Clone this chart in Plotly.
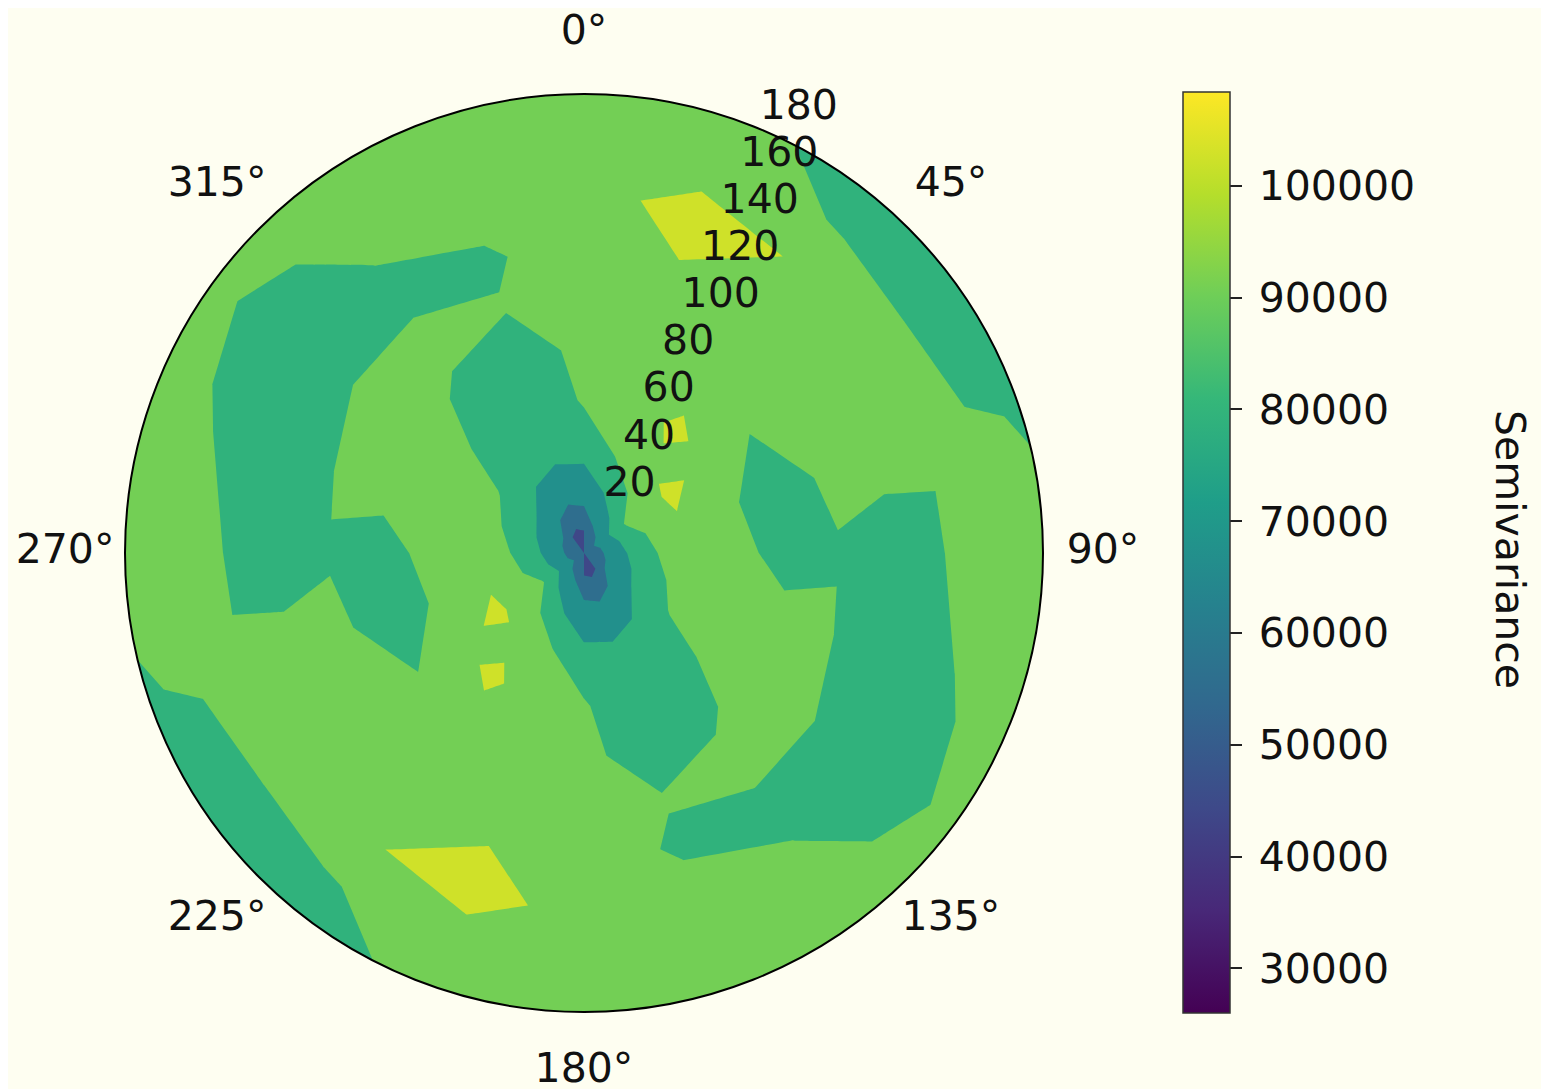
import numpy as np
import plotly.graph_objects as go
from plotly.colors import sample_colorscale

# ---------------- data ----------------
lags = [0, 20, 40, 60, 80, 100, 120, 140, 160, 180]
azimuths = [0, 18, 36, 54, 72, 90, 108, 126, 144, 162,
            180, 198, 216, 234, 252, 270, 288, 306, 324, 342]

# semivariance[azimuth index][lag index]
semivariance = [
    [37000, 62000, 75300, 85500, 90000, 90000, 88000, 91000, 90000, 90000],   # 0
    [50000, 68000, 84300, 92200, 90000, 90000, 95800, 101000, 90000, 90000],  # 18
    [50000, 76000, 93500, 97300, 93400, 90000, 90000, 95300, 84500, 78500],   # 36
    [52000, 85000, 97500, 94000, 84100, 90000, 90000, 90000, 82000, 76000],   # 54
    [50000, 80000, 95200, 85500, 78000, 86000, 86500, 84400, 84400, 83800],   # 72
    [50000, 76000, 94000, 87000, 80000, 83200, 80000, 83500, 90000, 84600],   # 90
    [50000, 72500, 89000, 90000, 86800, 85100, 78000, 80000, 86200, 90000],   # 108
    [50000, 70000, 83500, 90000, 94000, 90000, 80000, 78000, 80000, 90000],   # 126
    [37000, 66000, 76000, 74000, 80000, 90000, 81400, 84100, 88000, 90000],   # 144
    [36200, 60000, 74500, 74000, 73000, 84600, 83000, 86000, 90000, 90000],   # 162
    [37000, 62000, 75300, 85500, 90000, 90000, 88000, 91000, 90000, 90000],   # 180
    [50000, 68000, 84300, 92200, 90000, 90000, 95800, 101000, 90000, 90000],  # 198
    [50000, 76000, 93500, 97300, 93400, 90000, 90000, 95300, 84500, 78500],   # 216
    [52000, 85000, 97500, 94000, 84100, 90000, 90000, 90000, 82000, 76000],   # 234
    [50000, 80000, 95200, 85500, 78000, 86000, 86500, 84400, 84400, 83800],   # 252
    [50000, 76000, 94000, 87000, 80000, 83200, 80000, 83500, 90000, 84600],   # 270
    [50000, 72500, 89000, 90000, 86800, 85100, 78000, 80000, 86200, 90000],   # 288
    [50000, 70000, 83500, 90000, 94000, 90000, 80000, 78000, 80000, 90000],   # 306
    [37000, 66000, 76000, 74000, 80000, 90000, 81400, 84100, 88000, 90000],   # 324
    [36200, 60000, 74500, 74000, 73000, 84600, 83000, 86000, 90000, 90000],   # 342
]

contour_levels = [24000, 36000, 48000, 60000, 72000, 84000, 96000, 108000]
cbar_min, cbar_max = 26000, 108400
cbar_ticks = [30000, 40000, 50000, 60000, 70000, 80000, 90000, 100000]
angle_ticks = [0, 45, 90, 135, 180, 225, 270, 315]
radial_ticks = [20, 40, 60, 80, 100, 120, 140, 160, 180]
r_max = 180
cbar_title = "Semivariance"

# ---------------- build grid (close the azimuth circle) ----------------
az_closed = azimuths + [360]
z_closed = np.array(semivariance + [semivariance[0]], dtype=float)
A, B = np.meshgrid(lags, az_closed)
X = A * np.sin(np.radians(B))
Y = A * np.cos(np.radians(B))

# filled bands between inner levels; each band coloured by its midpoint
inner = contour_levels[1:-1]
step = contour_levels[1] - contour_levels[0]
lo, hi = contour_levels[0], contour_levels[-1]
mids = [(contour_levels[k] + contour_levels[k + 1]) / 2 for k in range(len(contour_levels) - 1)]
cols = sample_colorscale("Viridis", [(m - lo) / (hi - lo) for m in mids])
band_scale = [[k / (len(cols) - 1), c] for k, c in enumerate(cols)]

# ---------------- layout geometry (px, figure coords) ----------------
W, H = 1541, 1081
cx, cy, R = 576, 545, 459          # plot circle
RF = 536                           # outer frame hosting the angle labels
RL = 519                           # radius on which angle labels are centred

def dom(rad):
    return (dict(x=[(cx - rad) / W, (cx + rad) / W],
                 y=[max(0.0, 1 - (cy + rad) / H), min(1.0, 1 - (cy - rad) / H)]))

d_main, d_lab = dom(R), dom(RF)

FONT = "DejaVu Sans"
TXT = "#111111"
BG = "#FEFEF1"
FS = 41

hide_ax = dict(showgrid=False, showline=False, showticklabels="none",
               startline=False, endline=False, minorgridcount=0,
               gridcolor="rgba(0,0,0,0)", linecolor="rgba(0,0,0,0)")

fig = go.Figure()
fig.add_trace(go.Carpet(
    a=A.ravel(), b=B.ravel(), x=X.ravel(), y=Y.ravel(),
    carpet="polargrid", aaxis=hide_ax, baxis=hide_ax,
    xaxis="x", yaxis="y",
))
fig.add_trace(go.Contourcarpet(
    a=A.ravel(), b=B.ravel(), z=z_closed.ravel(), carpet="polargrid",
    autocontour=False,
    contours=dict(start=inner[0], end=inner[-1], size=step,
                  coloring="fill", showlines=False),
    line=dict(width=0, smoothing=0),
    colorscale=band_scale, showscale=False,
))
# continuous colour bar (as in the reference)
fig.add_trace(go.Scatterpolar(
    r=[0, 0], theta=[0, 0], mode="markers", subplot="polar",
    marker=dict(size=0.1, opacity=0, color=[cbar_min, cbar_max],
                colorscale="Viridis", cmin=cbar_min, cmax=cbar_max,
                showscale=True,
                colorbar=dict(
                    x=1175 / W, xanchor="left", xpad=0, ypad=0,
                    y=1 - 544.5 / H, yanchor="middle",
                    thickness=47, lenmode="pixels", len=921,
                    outlinewidth=1.5, outlinecolor="#333333",
                    tickmode="array", tickvals=cbar_ticks,
                    ticktext=["\u2009" + str(t) for t in cbar_ticks],
                    ticks="outside", ticklen=12, tickwidth=2, tickcolor="#222222",
                    tickfont=dict(family=FONT, size=FS, color=TXT),
                )),
    hoverinfo="skip", showlegend=False,
))
# radial tick labels along the 22.5° direction
fig.add_trace(go.Scatterpolar(
    r=radial_ticks, theta=[22.5] * len(radial_ticks), mode="text",
    text=[str(t) for t in radial_ticks], textposition="top right",
    textfont=dict(family=FONT, size=FS, color=TXT),
    cliponaxis=False, hoverinfo="skip", showlegend=False, subplot="polar",
))
# angular tick labels, centred on a slightly larger concentric polar frame
fig.add_trace(go.Scatterpolar(
    r=[RL / RF] * len(angle_ticks), theta=angle_ticks, mode="text",
    text=[f"{t}°" for t in angle_ticks], textposition="middle center",
    textfont=dict(family=FONT, size=FS, color=TXT),
    cliponaxis=False, hoverinfo="skip", showlegend=False, subplot="polar2",
))

fig.update_layout(
    width=W, height=H,
    margin=dict(l=0, r=0, t=0, b=0),
    paper_bgcolor=BG, plot_bgcolor="rgba(0,0,0,0)",
    font=dict(family=FONT, size=FS, color=TXT),
    showlegend=False,
    xaxis=dict(domain=d_main["x"], range=[-r_max, r_max], visible=False, fixedrange=True),
    yaxis=dict(domain=d_main["y"], range=[-r_max, r_max], visible=False, fixedrange=True),
    polar=dict(
        domain=d_main,
        bgcolor="rgba(0,0,0,0)",
        angularaxis=dict(
            direction="clockwise", rotation=90,
            tickmode="array", tickvals=angle_ticks, showticklabels=False,
            showgrid=False, showline=True, linecolor="black", linewidth=2,
            ticks="",
        ),
        radialaxis=dict(
            range=[0, r_max], tickmode="array", tickvals=radial_ticks,
            showticklabels=False, showgrid=False, showline=False, ticks="",
        ),
    ),
    polar2=dict(
        domain=d_lab,
        bgcolor="rgba(0,0,0,0)",
        angularaxis=dict(direction="clockwise", rotation=90, showticklabels=False,
                         showgrid=False, showline=False, ticks=""),
        radialaxis=dict(range=[0, 1], visible=False),
    ),
    annotations=[dict(
        text=cbar_title, x=1502 / W, y=1 - 541 / H, xref="paper", yref="paper",
        xanchor="center", yanchor="middle", textangle=90, showarrow=False,
        font=dict(family=FONT, size=FS, color=TXT),
    )],
)

fig.write_html("out.html")
